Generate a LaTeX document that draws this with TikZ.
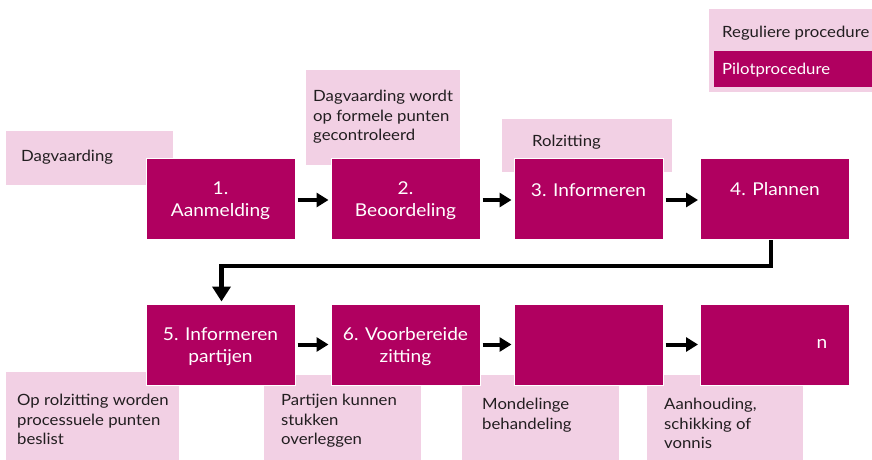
\documentclass[tikz,border=0pt]{standalone}
\usepackage{fontspec}
\setmainfont{Lato}[FakeStretch=1.08]
\usetikzlibrary{arrows.meta}
\definecolor{pilot}{RGB}{176,0,96}
\definecolor{regul}{RGB}{242,208,228}
\definecolor{ink}{RGB}{34,30,32}
\tikzset{
  darkbox/.style={fill=pilot,draw=white,line width=1pt,minimum width=149pt,minimum height=81pt,inner sep=0pt},
  lightbox/.style={fill=regul,draw=none,inner sep=0pt,anchor=north west},
  boxtxt/.style={text=white,font=\fontsize{17.7}{22}\selectfont,align=center,inner sep=0pt},
  lighttxt/.style={text=ink,font=\fontsize{15.5}{19.5}\selectfont,align=left,inner sep=0pt,anchor=north west},
  flow/.style={line width=4pt,-{Triangle[length=12pt,width=14pt]}},
}
\begin{document}
\begin{tikzpicture}[x=1pt,y=-1pt]
\useasboundingbox (0,0) rectangle (872,460);
% legend
\node[lightbox,minimum width=163pt,minimum height=83pt] (legend) at (709,9) {};
\node[fill=pilot,inner sep=0pt,anchor=north west,minimum width=158pt,minimum height=36pt] (legpilot) at (714,51) {};
\node[lighttxt,anchor=west] (legregtxt) at (722,33) {Reguliere procedure};
\node[lighttxt,anchor=west,text=white] (legpilottxt) at (722,70) {Pilotprocedure};
% light boxes row 1
\node[lightbox,minimum width=167pt,minimum height=54pt] (l1) at (6,131) {};
\node[lightbox,minimum width=154pt,minimum height=95pt] (l2) at (306,70) {};
\node[lightbox,minimum width=170pt,minimum height=53pt] (l3) at (502,119) {};
% light boxes row 2
\node[lightbox,minimum width=173pt,minimum height=88pt] (l5) at (6,372) {};
\node[lightbox,minimum width=157pt,minimum height=85pt] (l6) at (264,375) {};
\node[lightbox,minimum width=157pt,minimum height=85pt] (l7) at (462,375) {};
\node[lightbox,minimum width=156pt,minimum height=85pt] (l8) at (647,375) {};
% light texts
\node[lighttxt,anchor=west] (t1) at (21,157) {Dagvaarding};
\node[lighttxt] (t2) at (313,90) {Dagvaarding wordt\\op formele punten\\gecontroleerd};
\node[lighttxt,anchor=west] (t3) at (532,142) {Rolzitting};
\node[lighttxt] (t5) at (17,394) {Op rolzitting worden\\processuele punten\\beslist};
\node[lighttxt] (t6) at (281,394) {Partijen kunnen\\stukken\\overleggen};
\node[lighttxt] (t7) at (482,398) {Mondelinge\\behandeling};
\node[lighttxt] (t8) at (664,398) {Aanhouding,\\schikking of\\vonnis};
% dark boxes
\node[darkbox] (b1) at (220.5,199) {};
\node[darkbox] (b2) at (405.5,199) {};
\node[darkbox] (b3) at (588.5,199) {};
\node[darkbox] (b4) at (775,199) {};
\node[darkbox] (b5) at (220.5,344.5) {};
\node[darkbox] (b6) at (405.5,344.5) {};
\node[darkbox] (b7) at (588.5,344.5) {};
\node[darkbox] (b8) at (775,344.5) {};
% dark box texts
\node[boxtxt] (s1) at (220.5,201) {1.\\Aanmelding};
\node[boxtxt] (s2) at (405.5,200.5) {2.\\Beoordeling};
\node[boxtxt] (s3) at (588.5,190) {3. Informeren};
\node[boxtxt] (s4) at (775,189) {4. Plannen};
\node[boxtxt] (s5) at (220.5,346.5) {5. Informeren\\partijen};
\node[boxtxt] (s6) at (405.5,346.5) {6. Voorbereide\\zitting};
\node[boxtxt] (s8) at (822,344) {n};
% connectors
\draw[flow] ([shift={(2,1)}]b1.east) -- ([shift={(-2,1)}]b2.west);
\draw[flow] ([shift={(2,1)}]b2.east) -- ([shift={(-2,1)}]b3.west);
\draw[flow] ([shift={(2,1)}]b3.east) -- ([shift={(-2,1)}]b4.west);
\draw[flow] ([shift={(2,0)}]b5.east) -- ([shift={(-2,0)}]b6.west);
\draw[flow] ([shift={(2,0)}]b6.east) -- ([shift={(-2,0)}]b7.west);
\draw[flow] ([shift={(2,0)}]b7.east) -- ([shift={(-2,0)}]b8.west);
\coordinate (turnA) at (771,266);
\coordinate (turnB) at (221.5,266);
\draw[line width=4.5pt,-{Triangle[length=15pt,width=18pt]}] (b4.south -| turnA) -- (turnA) -- (turnB) -- ([shift={(0,-2)}]b5.north -| turnB);
\end{tikzpicture}
\end{document}
